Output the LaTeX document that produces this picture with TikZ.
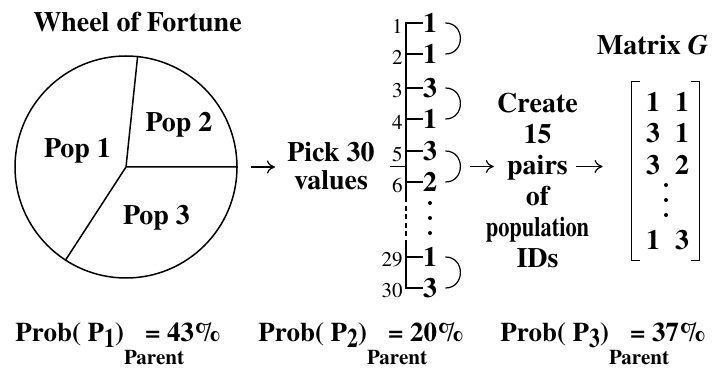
\documentclass[tikz,border=0pt]{standalone}
\usepackage{fontspec}
\setmainfont{TeX Gyre Termes}
\usetikzlibrary{arrows.meta, positioning, calc}

\newcommand{\narrowtxt}[1]{\scalebox{0.8}[1]{#1}}
\newcommand{\probtext}[2]{Prob( P\raisebox{-3pt}{\narrowtxt{#1}})\rlap{\raisebox{-11.5pt}{\fontsize{10.5}{12}\selectfont Parent}}\hspace{10.5pt}= #2\%}

\begin{document}
\begin{tikzpicture}[
x=0.5pt, y=-0.5pt,
txt/.style={inner sep=0pt, font=\fontsize{14}{15.5}\selectfont\bfseries},
idx/.style={inner sep=0pt, font=\fontsize{10.5}{12}\selectfont},
arrow/.style={-{To[length=4pt, width=6.5pt]}, line width=0.6pt},
thinline/.style={line width=0.6pt},
bold line/.style={line width=0.75pt}
]
\useasboundingbox (0,0) rectangle (712,368);

% wheel of fortune
\node[txt, anchor=base] (title) at (137.5,32) {Wheel of Fortune};
\node[draw, circle, bold line, minimum size=111pt, inner sep=0pt] (wheel) at (126,167) {};
\draw[bold line] (wheel.84) -- (wheel.center) -- (wheel.0);
\draw[bold line] (wheel.center) -- (wheel.237);
\node[txt, anchor=base] (pop1) at (77.5,158) {Pop 1};
\node[txt, anchor=base] (pop2) at (179,132) {Pop 2};
\node[txt, anchor=base] (pop3) at (156.5,225) {Pop 3};

\node[txt, align=center, font=\fontsize{14}{14}\selectfont\bfseries] (pick) at (331,166.5) {Pick 30\\values};
\draw[arrow, shorten <=6.5pt, shorten >=6pt] (wheel.east) -- (wheel.east -| pick.west);

% list of picked values
\coordinate (spine) at (406,0);
\foreach \n/\y/\v in {1/23/1,2/54/1,3/88/3,4/119/1,5/151/3,6/182/2,29/257/1,30/288/3} {
  \node[txt] (v\n) at (430,\y) {\v};
  \node[idx, anchor=east, xshift=-1.5pt, yshift=-1.5pt] (i\n) at (v\n.west -| spine) {\n};
}
\coordinate (dashtop) at (406,197);
\coordinate (dashbot) at (406,243);
\draw[thinline] (v1.west) -| (dashtop);
\draw[thinline, dash pattern=on 2.5pt off 1.8pt] (dashtop) -- (dashbot);
\draw[thinline] (dashbot) |- (v30.west);
\foreach \n in {2,3,4,5,6,29}
  \draw[thinline] (v\n.west -| spine) -- (v\n.west);
\foreach \y in {203,218,233}
  \fill (430,\y) circle (1pt);

% pairing brackets
\foreach \a/\b in {1/2,3/4,5/6,29/30}
  \draw[thinline] ([xshift=4pt]v\a.east) .. controls +(10pt,0) and +(10pt,0) .. ([xshift=4pt]v\b.east);
\coordinate (m56) at ($(v5)!0.5!(v6)$);
\coordinate (apex) at ([xshift=15pt]m56);
\draw[thinline] (m56 -| spine) -- ++(-8pt,0);

% create pairs
\foreach \t [count=\i] in {Create,15,pairs,of,\narrowtxt{population},IDs}
  \node[txt, anchor=base] (c\i) at (537.5,{113+31*(\i-1)}) {\t};

% matrix G
\node[txt, anchor=base] (mtitle) at (652.5,55) {Matrix \textit{G}};
\node[minimum width=33.5pt, minimum height=89pt, inner sep=0pt] (mat) at (665.5,171) {};
\draw[bold line] ([xshift=4pt]mat.north west) -- (mat.north west) -- (mat.south west) -- ([xshift=4pt]mat.south west);
\draw[bold line] ([xshift=-4pt]mat.north east) -- (mat.north east) -- (mat.south east) -- ([xshift=-4pt]mat.south east);
\foreach \r/\y/\p/\q in {1/102/1/1,2/133/3/1,3/165/3/2,4/240/1/3} {
  \node[txt] (m\r-a) at (653,\y) {\p};
  \node[txt] (m\r-b) at (682,\y) {\q};
}
\foreach \y in {185,200,215}
  \fill (666,\y) circle (1pt);

\draw[arrow, shorten <=5pt, shorten >=6.5pt] (apex) -- (apex -| c3.west);
\draw[arrow, shorten <=4pt, shorten >=14.5pt] (c3.east |- apex) -- (apex -| mat.west);

% probabilities
\foreach \k/\x/\pc in {1/15/43,2/258/20,3/500/37}
  \node[txt, font=\fontsize{13.5}{15}\selectfont\bfseries, anchor=base west] (prob\k) at (\x,342) {\probtext{\k}{\pc}};

\end{tikzpicture}
\end{document}
